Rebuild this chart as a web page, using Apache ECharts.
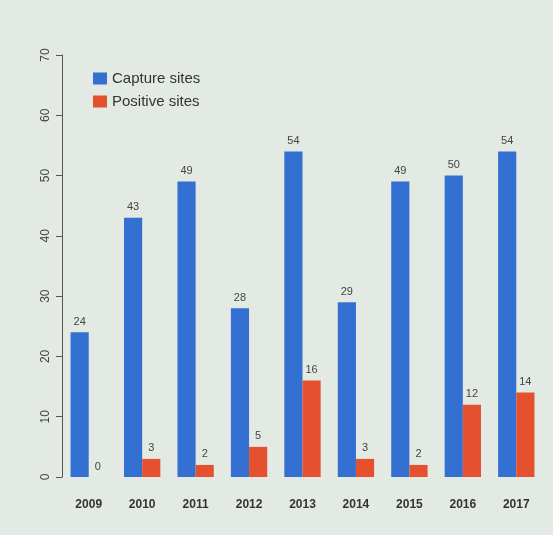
<!DOCTYPE html>
<html><head><meta charset="utf-8">
<script src="https://cdn.jsdelivr.net/npm/echarts@6/dist/echarts.min.js"></script>
<style>html,body{margin:0;padding:0;background:#e3eae4;}#c{width:553px;height:535px;}</style>
</head><body><div id="c"></div>
<script>
var years = ['2009','2010','2011','2012','2013','2014','2015','2016','2017'];
var captureSites = [24,43,49,28,54,29,49,50,54];
var positiveSites = [0,3,2,5,16,3,2,12,14];
var yTicks = [0,10,20,30,40,50,60,70];

var chart = echarts.init(document.getElementById('c'));
chart.setOption({
  backgroundColor: '#e3eae4',
  animation: false,
  textStyle: {fontFamily: 'Liberation Sans, Arial, sans-serif'},
  legend: {
    left: 88, top: 66, orient: 'vertical', itemWidth: 14, itemHeight: 12, itemGap: 8,
    icon: 'rect',
    textStyle: {fontSize: 15, color: '#333'},
    data: ['Capture sites','Positive sites']
  },
  grid: {left: 62, right: 10, top: 55, bottom: 58},
  xAxis: {
    type: 'category', data: years,
    axisLine: {show: false}, axisTick: {show: false},
    axisLabel: {fontSize: 12, color: '#333', fontWeight: 'bold', margin: 22}
  },
  yAxis: {
    type: 'value', min: 0, max: 70, interval: 10,
    axisLine: {show: true, lineStyle: {color: '#555'}},
    axisTick: {show: true, length: 6, lineStyle: {color: '#555'}},
    splitLine: {show: false},
    axisLabel: {rotate: 90, fontSize: 12, color: '#444', margin: 10,
      formatter: function(v){ return yTicks.indexOf(v) >= 0 ? String(v) : ''; }}
  },
  series: [
    {name: 'Capture sites', type: 'bar', data: captureSites, barGap: '0%', barCategoryGap: '32%',
     itemStyle: {color: '#3470d2'},
     label: {show: true, position: 'top', fontSize: 11, color: '#444'}},
    {name: 'Positive sites', type: 'bar', data: positiveSites,
     itemStyle: {color: '#e5512f'},
     label: {show: true, position: 'top', fontSize: 11, color: '#444'}}
  ]
});
</script>
</body></html>
